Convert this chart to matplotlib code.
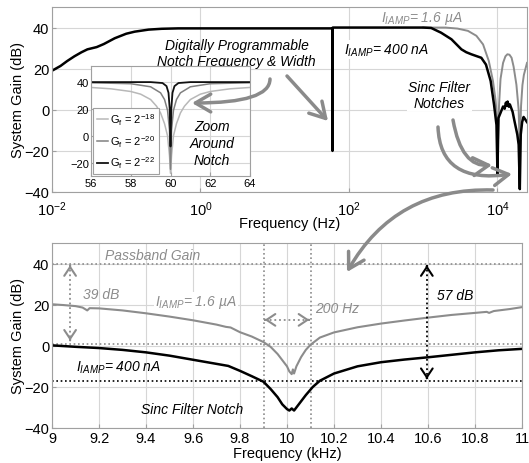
import matplotlib
matplotlib.use('Agg')
import matplotlib.pyplot as plt
from matplotlib.patches import FancyArrowPatch
from matplotlib.ticker import FixedLocator, NullLocator, LogFormatterSciNotation

plt.rcParams['font.family'] = ['Liberation Sans', 'DejaVu Sans']
plt.rcParams['mathtext.fontset'] = 'custom'
plt.rcParams['mathtext.rm'] = 'Liberation Sans'
plt.rcParams['mathtext.it'] = 'Liberation Sans:italic'
plt.rcParams['mathtext.bf'] = 'Liberation Sans:bold'

# ---------------- data ----------------
# Top panel: full-band response (Hz, dB)
top_f_400n = [0.01, 0.013, 0.016, 0.02, 0.025, 0.03, 0.04, 0.05, 0.07, 0.1, 0.13, 0.2, 0.3, 0.5,
              1, 10, 59.5, 59.9, 60.0, 60.1, 60.5, 100, 1000, 1280, 1740, 2400, 3270, 3800,
              4450, 6060, 7000, 8100, 9000, 9700, 10000, 10300, 11000, 11900, 12500, 13000,
              13300, 13700, 14200, 14700, 16000, 17000, 18500, 19300, 20000, 20600, 21500,
              22500, 23500, 25000]
top_g_400n = [19.0, 21.3, 23.7, 26.0, 28.0, 29.4, 30.5, 32.0, 34.8, 37.0, 38.0, 39.0, 39.4, 39.6,
              39.6, 39.6, 39.6, 39.3, -20.0, 39.4, 40.0, 40.0, 40.0, 39.8, 37.5, 34.3, 29.4, 28.0,
              27.0, 25.3, 22.0, 14.0, 2.4, -7.4, -31.0, -4.0, -1.5, 1.6, 0.5, 3.5,
              2.0, 4.0, 1.5, 2.6, -1.0, -5.7, -12.0, -17.0, -38.6, -12.0, -6.0,
              -3.5, -4.5, -6.0]
top_f_1u6 = [1000, 2000, 2900, 4000, 5200, 6400, 7650, 8700, 9400, 9700, 10000, 10200, 10500,
             11000, 11900, 12800, 13600, 14500, 15500, 16500, 18000, 19300, 20000, 20800,
             21700, 22700, 25000]
top_g_1u6 = [40.0, 40.0, 39.5, 38.4, 36.0, 31.8, 23.7, 14.0, 5.0, -0.8, -12.0, -14.0, 2.0,
             15.0, 22.8, 26.0, 27.0, 26.8, 25.3, 21.0, 12.2, 0.0, -20.0, 2.0,
             12.0, 17.0, 22.8]

# Inset: zoom around 60 Hz notch (Hz, dB)
ins_f18 = [56, 57, 58, 58.5, 59, 59.3, 59.5, 59.7, 59.85, 59.95, 60, 60.05, 60.15, 60.3, 60.5,
           60.7, 61, 61.5, 62, 63, 64]
ins_g18 = [36, 35, 33, 31, 27, 22, 17, 9, 0, -15, -28, -15, 0, 9, 17, 22, 27, 31, 33, 35, 36]
ins_f20 = [56, 58, 59, 59.5, 59.7, 59.85, 59.95, 60, 60.05, 60.15, 60.3, 60.5, 61, 62, 64]
ins_g20 = [39.5, 38.8, 36.5, 32, 27, 19, 4, -25, 4, 19, 27, 32, 36.5, 38.8, 39.5]
ins_f22 = [56, 59, 59.6, 59.8, 59.9, 59.96, 60, 60.04, 60.1, 60.2, 60.4, 61, 64]
ins_g22 = [40, 40, 39.3, 37, 32, 20, -8, 20, 32, 37, 39.3, 40, 40]
ins_labels = [r'G$_{\mathrm{f}}$ = 2$^{-18}$', r'G$_{\mathrm{f}}$ = 2$^{-20}$',
              r'G$_{\mathrm{f}}$ = 2$^{-22}$']

# Bottom panel: around 10 kHz sinc notch (kHz, dB)
bot_f_1u6 = [9.00, 9.05, 9.10, 9.13, 9.15, 9.16, 9.20, 9.30, 9.40, 9.50, 9.60, 9.70, 9.74, 9.76,
             9.80, 9.85, 9.90, 9.93, 9.96, 9.98, 10.00, 10.01, 10.02, 10.025, 10.03, 10.04,
             10.06, 10.08, 10.10, 10.14, 10.20, 10.30, 10.40, 10.50, 10.60, 10.70, 10.80,
             10.85, 10.86, 10.88, 10.95, 11.00]
bot_g_1u6 = [20.2, 19.8, 19.3, 18.6, 17.2, 18.3, 18.2, 17.2, 15.8, 14.2, 12.4, 10.3, 9.2, 8.9,
             6.6, 4.5, 1.8, -0.5, -4.0, -7.0, -10.0, -12.5, -13.8, -11.5, -13.5, -10.0,
             -5.5, -2.0, 0.5, 4.0, 6.5, 9.0, 10.8, 12.3, 13.7, 15.0, 16.0,
             16.5, 16.0, 16.9, 17.9, 18.8]
bot_f_400n = [9.00, 9.10, 9.20, 9.30, 9.40, 9.50, 9.60, 9.70, 9.75, 9.80, 9.85, 9.90, 9.93, 9.96,
              9.98, 10.00, 10.01, 10.02, 10.03, 10.05, 10.08, 10.11, 10.14, 10.20, 10.30, 10.40,
              10.50, 10.60, 10.70, 10.80, 10.90, 11.00]
bot_g_400n = [0.2, -0.5, -1.1, -2.0, -3.2, -4.8, -6.8, -8.8, -9.8, -12.2, -14.8, -17.5, -21.0, -25.0,
              -28.5, -30.8, -31.5, -30.5, -31.5, -28.5, -24.0, -20.0, -17.0, -13.5, -10.0, -8.0,
              -6.7, -5.6, -4.4, -3.2, -2.2, -1.5]

y_ticks = [-40, -20, 0, 20, 40]
top_xticks = [1e-2, 1e0, 1e2, 1e4]
bot_xticks = [9, 9.2, 9.4, 9.6, 9.8, 10, 10.2, 10.4, 10.6, 10.8, 11]
bot_xticklabels = ['9', '9.2', '9.4', '9.6', '9.8', '10', '10.2', '10.4', '10.6', '10.8', '11']
ins_xticks = [56, 58, 60, 62, 64]
ins_yticks = [-20, 0, 20, 40]

passband = 40
gain_1u6 = 1
gain_400n = -17
bw_lo, bw_hi = 9.9, 10.1

# ---------------- figure ----------------
W, H = 529, 464
fig = plt.figure(figsize=(W / 100, H / 100), dpi=100)


def fx(x, y):
    return (x / W, 1 - y / H)


def rect(l, t, r, b):
    return [l / W, 1 - b / H, (r - l) / W, (b - t) / H]


ax1 = fig.add_axes(rect(52, 8, 527, 193))
ax2 = fig.add_axes(rect(52, 244, 522, 429))
axi = fig.add_axes(rect(91, 67, 250, 177))

GRID = '#d6d6d6'
SP = '#a0a0a0'
GRAY = '#8c8c8c'
for ax in (ax1, ax2, axi):
    for s in ax.spines.values():
        s.set_color(SP)
        s.set_linewidth(0.8)
    ax.grid(True, color=GRID, lw=0.8)
    ax.set_axisbelow(True)
    ax.tick_params(direction='in', length=3, color=SP, labelsize=10.5, pad=2)

# ---- top panel
ax1.set_xscale('log')
ax1.plot(top_f_1u6, top_g_1u6, color=GRAY, lw=1.4)
ax1.plot(top_f_400n, top_g_400n, color='black', lw=1.8)
ax1.set_xlim(1e-2, 2.5e4)
ax1.set_ylim(-40, 50)
ax1.set_yticks(y_ticks)
ax1.xaxis.set_major_locator(FixedLocator(top_xticks))
ax1.xaxis.set_major_formatter(LogFormatterSciNotation())
ax1.xaxis.set_minor_locator(NullLocator())
ax1.tick_params(axis='x', pad=5)
ax1.set_xlabel('Frequency (Hz)', fontsize=10.5, labelpad=-1)
ax1.set_ylabel('System Gain (dB)', fontsize=10.5)
ax1.yaxis.set_label_coords(-27 / 475, 0.5)

tk = dict(fontsize=10, fontstyle='italic')
wb = dict(facecolor='white', edgecolor='none', pad=1)
ax1.text(3.06, 27.7, 'Digitally Programmable\nNotch Frequency & Width', ha='center',
         va='center', linespacing=1.15, **tk)
ax1.text(85, 29.2, r'$I_{IAMP}$= 400 nA', ha='left', va='center', bbox=wb, **tk)
ax1.text(270, 44.9, r'$I_{IAMP}$= 1.6 µA', ha='left', va='center', color=GRAY, **tk)
ax1.text(1644, 7.2, 'Sinc Filter\nNotches', ha='center', va='center', linespacing=1.15,
         bbox=wb, **tk)

# ---- inset
axi.set_facecolor('white')
axi.plot(ins_f18, ins_g18, color='#b8b8b8', lw=1.1, label=ins_labels[0])
axi.plot(ins_f20, ins_g20, color='#808080', lw=1.1, label=ins_labels[1])
axi.plot(ins_f22, ins_g22, color='#111111', lw=1.3, label=ins_labels[2])
axi.set_xlim(56, 64)
axi.set_ylim(-30, 52)
axi.set_xticks(ins_xticks)
axi.set_yticks(ins_yticks)
axi.tick_params(labelsize=8, pad=1.5)
leg = axi.legend(loc='lower left', fontsize=8, handlelength=1.0, handletextpad=0.2,
                 borderpad=0.35, labelspacing=0.55, borderaxespad=0.15, fancybox=False,
                 framealpha=1)
leg.get_frame().set_edgecolor(SP)
leg.get_frame().set_linewidth(0.8)
axi.text(62.1, -5.4, 'Zoom\nAround\nNotch', ha='center', va='center', linespacing=1.3,
         zorder=5, **tk)

# ---- bottom panel
dot = (0, (1, 1.6))
ax2.axhline(passband, color=GRAY, ls=dot, lw=1.2)
ax2.axhline(gain_1u6, color=GRAY, ls=dot, lw=1.2)
ax2.axhline(gain_400n, color='black', ls=dot, lw=1.2)
ax2.axvline(bw_lo, color=GRAY, ls=dot, lw=1.2)
ax2.axvline(bw_hi, color=GRAY, ls=dot, lw=1.2)
ax2.plot(bot_f_1u6, bot_g_1u6, color=GRAY, lw=1.5)
ax2.plot(bot_f_400n, bot_g_400n, color='black', lw=1.8)
ax2.set_xlim(9, 11)
ax2.set_ylim(-40, 50)
ax2.set_yticks(y_ticks)
ax2.set_xticks(bot_xticks)
ax2.set_xticklabels(bot_xticklabels)
ax2.set_xlabel('Frequency (kHz)', fontsize=10.5, labelpad=1)
ax2.set_ylabel('System Gain (dB)', fontsize=10.5)
ax2.yaxis.set_label_coords(-27 / 470, 0.5)


def dbl_arrow(ax, x0, y0, x1, y1, color):
    ax.plot([x0, x1], [y0, y1], ls=dot, color=color, lw=1.3)
    for (xa, ya, xb, yb) in [(x0, y0, x1, y1), (x1, y1, x0, y0)]:
        ax.annotate('', xy=(xa, ya), xytext=(xa + (xb - xa) * 0.01, ya + (yb - ya) * 0.01),
                    arrowprops=dict(arrowstyle='->,head_length=0.45,head_width=0.3',
                                    color=color, lw=1.5, shrinkA=0, shrinkB=0,
                                    mutation_scale=14))


dbl_arrow(ax2, 9.077, passband - 0.8, 9.077, gain_1u6 + 1.5, GRAY)
dbl_arrow(ax2, 10.595, passband - 0.8, 10.595, gain_400n + 0.8, 'black')
dbl_arrow(ax2, bw_lo + 0.005, 12.6, bw_hi - 0.005, 12.6, GRAY)

ax2.text(9.43, 44.0, 'Passband Gain', ha='center', va='center', color=GRAY, **tk)
ax2.text(9.21, 25.1, '39 dB', ha='center', va='center', color=GRAY, **tk)
ax2.text(9.44, 21.4, r'$I_{IAMP}$= 1.6 µA', ha='left', va='center', color=GRAY, bbox=wb, **tk)
ax2.text(9.10, -10.3, r'$I_{IAMP}$= 400 nA', ha='left', va='center', **tk)
ax2.text(9.38, -30.7, 'Sinc Filter Notch', ha='left', va='center', **tk)
ax2.text(10.12, 18.3, '200 Hz', ha='left', va='center', color=GRAY, **tk)
ax2.text(10.64, 24.6, '57 dB', ha='left', va='center', **tk)

# ---- callout arrows (figure pixel positions)
ast = '->,head_length=0.55,head_width=0.32'


def fig_arrow(p0, p1, cs='arc3,rad=0'):
    a = FancyArrowPatch(posA=fx(*p0), posB=fx(*p1), transform=fig.transFigure,
                        arrowstyle=ast, connectionstyle=cs, color='#8a8a8a', lw=2.5,
                        mutation_scale=20, shrinkA=0, shrinkB=0, zorder=10)
    fig.add_artist(a)


fig_arrow((270, 80), (192, 104), 'angle3,angleA=-90,angleB=0')
fig_arrow((287, 77), (328, 122))
fig_arrow((453, 121), (492, 166), 'angle3,angleA=-80,angleB=5')
fig_arrow((438, 128), (512, 175), 'angle3,angleA=-88,angleB=8')
fig_arrow((493, 191), (347, 273), 'arc3,rad=0.3')

fig.savefig('out.png', dpi=100)
